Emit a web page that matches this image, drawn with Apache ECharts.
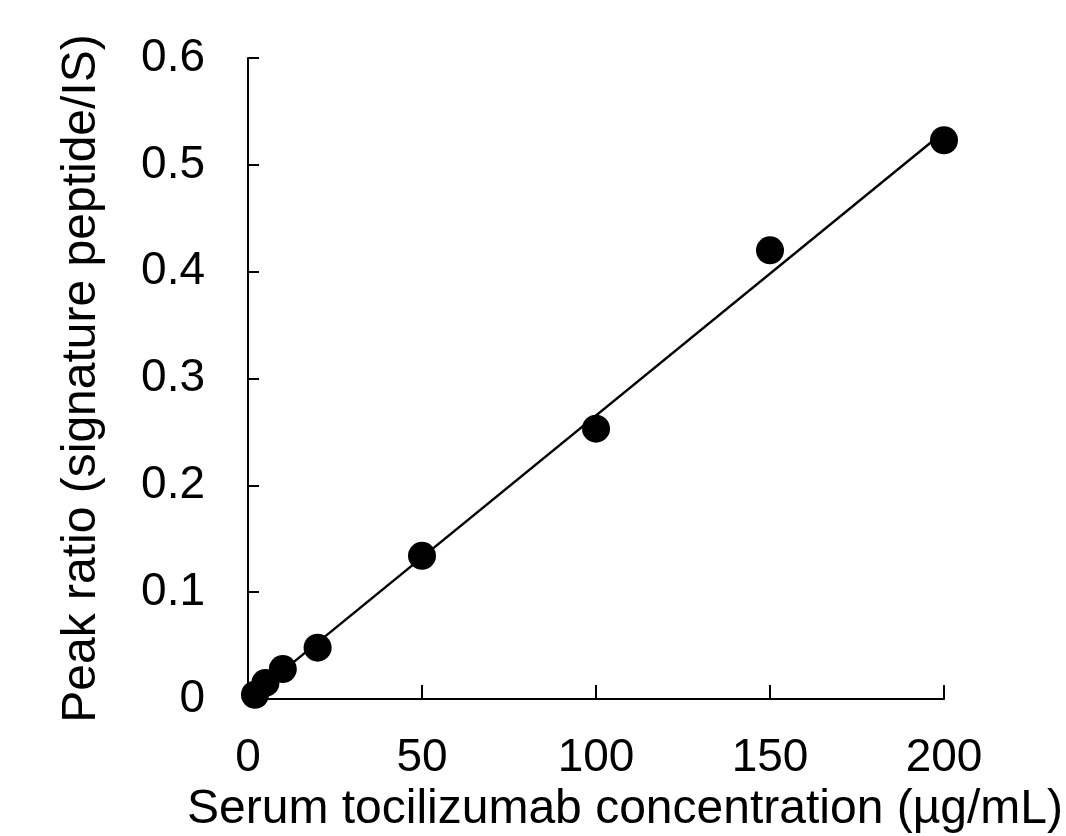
<!DOCTYPE html>
<html>
<head>
<meta charset="utf-8">
<script src="https://cdn.jsdelivr.net/npm/echarts@6/dist/echarts.min.js"></script>
<style>
  html, body { margin: 0; padding: 0; background: #fff; }
  #chart { width: 1066px; height: 836px; }
</style>
</head>
<body>
<div id="chart"></div>
<script>
// measured calibration points
var concentration = [2, 5, 10, 20, 50, 100, 150, 200];
var peakRatio = [0.004, 0.015, 0.028, 0.048, 0.134, 0.253, 0.420, 0.523];
// fitted regression line end points
var fitX = [2, 200];
var fitY = [0.005, 0.531];
var xTicks = [0, 50, 100, 150, 200];
var yTicks = [0, 0.1, 0.2, 0.3, 0.4, 0.5, 0.6];

var font = "'Liberation Sans', Arial, sans-serif";

var myChart = echarts.init(document.getElementById("chart"));
myChart.setOption({
  animation: false,
  grid: {
    left: 248,
    right: 122,
    top: 58,
    bottom: 137,
    containLabel: false,
    outerBoundsMode: "none"
  },
  xAxis: {
    type: "value",
    min: xTicks[0],
    max: xTicks[xTicks.length - 1],
    interval: 50,
    name: "Serum tocilizumab concentration (µg/mL)",
    nameLocation: "middle",
    nameGap: 86,
    // title sits a little right of the axis centre
    nameTextStyle: { fontFamily: font, fontSize: 48, color: "#000", padding: [0, 0, 0, 58] },
    axisLine: { lineStyle: { color: "#000", width: 2 } },
    axisTick: { inside: true, length: 14, lineStyle: { color: "#000", width: 2 } },
    axisLabel: { fontFamily: font, fontSize: 46, color: "#000", margin: 36 },
    splitLine: { show: false }
  },
  yAxis: {
    type: "value",
    min: yTicks[0],
    max: yTicks[yTicks.length - 1],
    interval: 0.1,
    name: "Peak ratio (signature peptide/IS)",
    nameLocation: "middle",
    nameGap: 142,
    nameTextStyle: { fontFamily: font, fontSize: 48, color: "#000" },
    axisLine: { show: true, lineStyle: { color: "#000", width: 2 } },
    axisTick: { show: true, inside: true, length: 11, lineStyle: { color: "#000", width: 2 } },
    axisLabel: { fontFamily: font, fontSize: 46, color: "#000", margin: 43 },
    splitLine: { show: false }
  },
  series: [
    {
      name: "fit",
      type: "line",
      data: fitX.map(function (x, i) { return [x, fitY[i]]; }),
      showSymbol: false,
      lineStyle: { color: "#000", width: 2.4 },
      z: 1
    },
    {
      name: "measured",
      type: "scatter",
      data: concentration.map(function (x, i) { return [x, peakRatio[i]]; }),
      symbol: "circle",
      symbolSize: 28,
      itemStyle: { color: "#000", opacity: 1 },
      z: 2
    }
  ]
});
</script>
</body>
</html>
